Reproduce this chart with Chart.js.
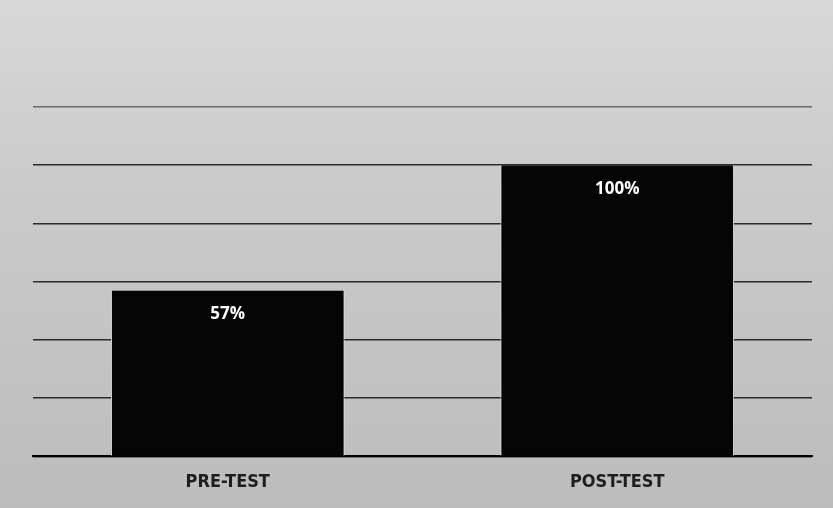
<!DOCTYPE html>
<html>
<head>
<meta charset="utf-8">
<script src="https://cdn.jsdelivr.net/npm/chart.js@4.4.1/dist/chart.umd.min.js"></script>
<style>
  html, body { margin: 0; padding: 0; background: #c4c4c4; }
  #wrap { width: 833px; height: 508px; }
</style>
</head>
<body>
<div id="wrap"><canvas id="c" width="833" height="508"></canvas></div>
<script>
const categories = ['PRE-TEST', 'POST-TEST'];
const scores = [57, 100];
const valueLabels = ['57%', '100%'];

const bgPlugin = {
  id: 'bg',
  beforeDraw(chart) {
    const ctx = chart.ctx;
    const g = ctx.createLinearGradient(0, 0, 0, chart.height);
    g.addColorStop(0, '#d8d8d8');
    g.addColorStop(0.35, '#cbcbcb');
    g.addColorStop(1, '#bcbcbc');
    ctx.save();
    ctx.fillStyle = g;
    ctx.fillRect(0, 0, chart.width, chart.height);
    ctx.restore();
  }
};

const labelPlugin = {
  id: 'valueLabels',
  afterDatasetsDraw(chart) {
    const ctx = chart.ctx;
    const meta = chart.getDatasetMeta(0);
    ctx.save();
    ctx.fillStyle = '#ffffff';
    ctx.font = 'bold 17px "Open Sans", sans-serif';
    ctx.textAlign = 'center';
    ctx.textBaseline = 'middle';
    meta.data.forEach((bar, i) => {
      ctx.fillText(valueLabels[i], bar.x, bar.y + 24);
    });
    ctx.restore();
  }
};

new Chart(document.getElementById('c'), {
  type: 'bar',
  data: {
    labels: categories,
    datasets: [{
      data: scores,
      backgroundColor: '#050505',
      borderColor: '#e6e6e6',
      borderWidth: { left: 1, right: 1, top: 0, bottom: 0 },
      borderSkipped: 'bottom',
      barPercentage: 0.6,
      categoryPercentage: 1.0
    }]
  },
  options: {
    responsive: false,
    animation: false,
    devicePixelRatio: 1,
    layout: { padding: { left: 33, right: 21, top: 107, bottom: 0 } },
    plugins: { legend: { display: false }, tooltip: { enabled: false } },
    scales: {
      x: {
        grid: { display: false, drawTicks: false },
        border: { display: true, color: '#000000', width: 2 },
        ticks: {
          color: '#1e1e1e',
          font: { family: '"Liberation Sans Narrow", "DejaVu Sans Condensed", sans-serif', size: 18, weight: 'bold' },
          padding: 15
        }
      },
      y: {
        min: 0,
        max: 120,
        ticks: { display: false, stepSize: 20 },
        grid: {
          color: (c) => (c.tick && c.tick.value === 120) ? '#6a6a6a' : '#2b2b2b',
          lineWidth: 1.5,
          drawTicks: false
        },
        border: { display: false }
      }
    }
  },
  plugins: [bgPlugin, labelPlugin]
});
</script>
</body>
</html>
